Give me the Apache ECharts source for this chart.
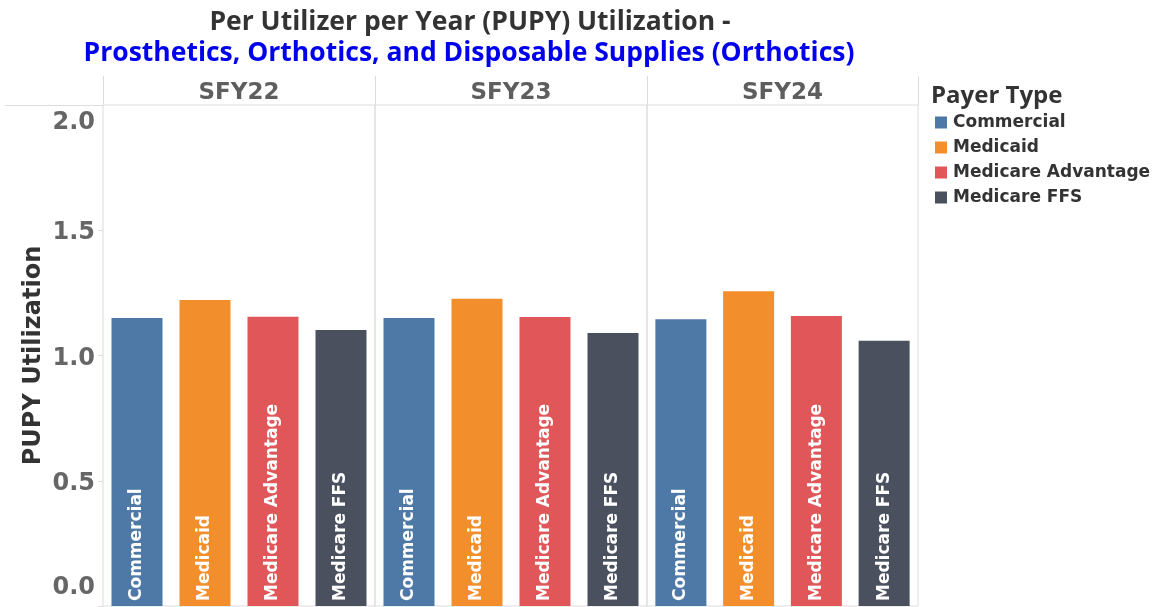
<!DOCTYPE html>
<html>
<head>
<meta charset="utf-8">
<script src="https://cdn.jsdelivr.net/npm/echarts@6/dist/echarts.min.js"></script>
<style>
  html, body { margin: 0; padding: 0; background: #fff; }
  #chart { width: 1160px; height: 607px; }
</style>
</head>
<body>
<div id="chart"></div>
<script>
// values
const years = ["SFY22", "SFY23", "SFY24"];
const payerTypes = ["Commercial", "Medicaid", "Medicare Advantage", "Medicare FFS"];
const commercial = [1.150, 1.150, 1.145];
const medicaid = [1.222, 1.227, 1.256];
const medicareAdvantage = [1.155, 1.154, 1.158];
const medicareFfs = [1.102, 1.090, 1.059];

const colors = ["#4e79a7", "#f28e2b", "#e15759", "#4a505d"];
const valuesByPayer = [commercial, medicaid, medicareAdvantage, medicareFfs];

const panelLeft = [103, 375, 647];
const panelWidth = [272, 272, 271];

const grids = [];
const xAxes = [];
const yAxes = [];
const series = [];

const tickFont = { fontFamily: "DejaVu Sans", fontSize: 24, fontWeight: "bold", color: "#666" };

for (let g = 0; g < years.length; g++) {
  grids.push({
    left: panelLeft[g],
    width: panelWidth[g],
    top: 105,
    bottom: 1,
    show: true,
    borderColor: "#dcdcdc",
    borderWidth: 1
  });
  xAxes.push({
    type: "category",
    gridIndex: g,
    position: "top",
    data: payerTypes,
    name: years[g],
    nameLocation: "middle",
    nameGap: 0,
    nameTextStyle: {
      fontFamily: "DejaVu Sans",
      fontSize: 23,
      fontWeight: "bold",
      color: "#5e5e5e",
      verticalAlign: "bottom"
    },
    axisLine: { show: false },
    axisTick: { show: false },
    axisLabel: { show: false }
  });
  yAxes.push({
    type: "value",
    gridIndex: g,
    min: 0,
    max: 2,
    interval: 0.5,
    splitLine: { show: false },
    axisLine: { show: false },
    axisTick: { show: g === 0, length: 5, lineStyle: { color: "#dcdcdc" } },
    axisLabel: g === 0 ? {
      show: true,
      margin: 8,
      ...tickFont,
      formatter: function (v) {
        // top and bottom labels are pushed inside the pane, like the original
        if (v === 2) return "{t|" + v.toFixed(1) + "}";
        if (v === 0) return "{b|" + v.toFixed(1) + "}";
        return "{n|" + v.toFixed(1) + "}";
      },
      rich: {
        t: { ...tickFont, padding: [36, 0, 0, 0] },
        b: { ...tickFont, padding: [0, 0, 36, 0] },
        n: { ...tickFont, padding: [6, 0, 0, 0] }
      }
    } : { show: false },
    name: g === 0 ? "PUPY Utilization" : "",
    nameLocation: "middle",
    nameRotate: 90,
    nameGap: 57,
    nameTextStyle: {
      fontFamily: "DejaVu Sans",
      fontSize: 24,
      fontWeight: "bold",
      color: "#333"
    }
  });

  for (let p = 0; p < payerTypes.length; p++) {
    series.push({
      type: "bar",
      name: payerTypes[p],
      xAxisIndex: g,
      yAxisIndex: g,
      barWidth: 51,
      barGap: "-100%",
      itemStyle: { color: colors[p] },
      label: {
        show: true,
        formatter: "{a}",
        position: "insideBottom",
        rotate: 90,
        align: "left",
        verticalAlign: "middle",
        distance: 5,
        color: "#fff",
        fontFamily: "DejaVu Sans",
        fontSize: 17,
        fontWeight: "bold"
      },
      data: payerTypes.map((c, i) => (i === p ? valuesByPayer[p][g] : "-"))
    });
  }
}

const lineStyle = { stroke: "#dcdcdc", lineWidth: 1 };
const graphics = [
  { type: "line", shape: { x1: 5, y1: 105.5, x2: 103, y2: 105.5 }, style: lineStyle }
];
[103, 375, 647, 918].forEach(x => {
  graphics.push({ type: "line", shape: { x1: x + 0.5, y1: 76, x2: x + 0.5, y2: 105 }, style: lineStyle });
});

const option = {
  animation: false,
  color: colors,
  title: [
    {
      text: "Per Utilizer per Year (PUPY) Utilization -",
      left: 465,
      top: 4,
      textAlign: "center",
      textStyle: { fontFamily: "Open Sans", fontSize: 26.5, fontWeight: "bold", color: "#333" }
    },
    {
      text: "Prosthetics, Orthotics, and Disposable Supplies (Orthotics)",
      left: 464,
      top: 35,
      textAlign: "center",
      textStyle: { fontFamily: "Open Sans", fontSize: 26.5, fontWeight: "bold", color: "#0000ee" }
    },
    {
      text: "Payer Type",
      left: 926,
      top: 79,
      textStyle: { fontFamily: "Open Sans", fontSize: 24, fontWeight: "bold", color: "#333" }
    }
  ],
  legend: {
    orient: "vertical",
    left: 930,
    top: 109,
    icon: "rect",
    itemWidth: 12,
    itemHeight: 12,
    itemGap: 8,
    data: payerTypes,
    textStyle: {
      fontFamily: "DejaVu Sans",
      fontSize: 17,
      fontWeight: "bold",
      color: "#333",
      padding: [0, 0, 0, 1]
    }
  },
  grid: grids,
  xAxis: xAxes,
  yAxis: yAxes,
  series: series,
  graphic: graphics
};

const chart = echarts.init(document.getElementById("chart"));
chart.setOption(option);
</script>
</body>
</html>
